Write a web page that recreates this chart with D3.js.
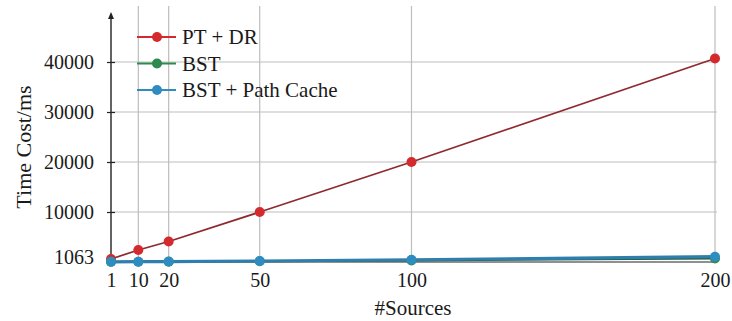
<!DOCTYPE html>
<html>
<head>
<meta charset="utf-8">
<script src="https://cdn.jsdelivr.net/npm/d3@7"></script>
<style>
  html, body { margin: 0; padding: 0; background: #fff; }
  svg { display: block; }
  text { font-family: "Liberation Serif", "DejaVu Serif", serif; fill: #1a1a1a; }
</style>
</head>
<body>
<svg id="chart" width="732" height="321"></svg>
<script>
// Number of sources on the x axis
const sources = [1, 10, 20, 50, 100, 200];
// Time cost (ms) for each method
const ptDr = [600, 2400, 4100, 10000, 20000, 40700];
const bst = [30, 50, 70, 150, 300, 700];
const bstPathCache = [40, 60, 90, 200, 450, 1063];
// Axis ticks
const yTicks = [1063, 10000, 20000, 30000, 40000];
const xTicks = [1, 10, 20, 50, 100, 200];

const seriesNames = ["PT + DR", "BST", "BST + Path Cache"];
const seriesValues = [ptDr, bst, bstPathCache];
const markerColors = ["#d42a2e", "#2b8a4c", "#2f8cc0"];
const lineColors = ["#8e2a30", "#1f5e3a", "#2f7fae"];

const svg = d3.select("#chart");
const x = d3.scaleLinear().domain([1, 200]).range([111, 715]);
const y = d3.scaleLinear().domain([0, 40000]).range([262, 62]);
const gridTop = 6;

// Grid lines
svg.append("g").selectAll("line.v").data(xTicks.filter(d => d !== 1)).join("line")
  .attr("x1", d => x(d)).attr("x2", d => x(d))
  .attr("y1", y(0)).attr("y2", gridTop)
  .attr("stroke", "#bdbdbd").attr("stroke-width", 1.2);
svg.append("g").selectAll("line.h").data(yTicks.filter(d => d >= 10000)).join("line")
  .attr("x1", x(1)).attr("x2", 717)
  .attr("y1", d => y(d)).attr("y2", d => y(d))
  .attr("stroke", "#bdbdbd").attr("stroke-width", 1.2);

// Y axis with arrow
svg.append("line")
  .attr("x1", x(1)).attr("x2", x(1)).attr("y1", y(0) + 2).attr("y2", 16)
  .attr("stroke", "#222").attr("stroke-width", 1.4);
svg.append("path")
  .attr("d", `M${x(1)},12 L${x(1) - 3},19 L${x(1) + 3},19 Z`)
  .attr("fill", "#222");

const yAxis = d3.axisLeft(y).tickValues(yTicks).tickSize(0).tickPadding(17).tickFormat(d3.format("d"));
const yg = svg.append("g").attr("transform", `translate(${x(1)},0)`).call(yAxis);
yg.select(".domain").remove();
yg.selectAll(".tick text").style("font-size", "20px").attr("fill", "#1a1a1a");
yg.selectAll(".tick").append("line")
  .attr("x1", -4).attr("x2", 4).attr("stroke", "#222").attr("stroke-width", 1.2);

// X axis
svg.append("line")
  .attr("x1", x(1)).attr("x2", x(200)).attr("y1", y(0)).attr("y2", y(0))
  .attr("stroke", "#222").attr("stroke-width", 1.2);
const xAxis = d3.axisBottom(x).tickValues(xTicks).tickSize(0).tickPadding(11);
const xg = svg.append("g").attr("transform", `translate(0,${y(0)})`).call(xAxis);
xg.select(".domain").remove();
xg.selectAll(".tick text").style("font-size", "20px").attr("fill", "#1a1a1a");

// Axis titles
svg.append("text").attr("x", 413).attr("y", 315).attr("text-anchor", "middle")
  .style("font-size", "21px").text("#Sources");
svg.append("text").attr("transform", "translate(31,147) rotate(-90)").attr("text-anchor", "middle")
  .style("font-size", "22px").text("Time Cost/ms");

// Series lines and markers
const line = d3.line().x((d, i) => x(sources[i])).y(d => y(d));
seriesValues.forEach((vals, k) => {
  const g = svg.append("g");
  g.append("path").datum(vals).attr("d", line)
    .attr("fill", "none").attr("stroke", lineColors[k])
    .attr("stroke-width", k === 2 ? 3.2 : 1.8);
  g.selectAll("circle").data(vals).join("circle")
    .attr("cx", (d, i) => x(sources[i])).attr("cy", d => y(d)).attr("r", 5)
    .attr("fill", markerColors[k]);
});

// Legend
const legend = svg.append("g");
seriesNames.forEach((name, k) => {
  const ly = 37 + k * 26.5;
  legend.append("line").attr("x1", 137).attr("x2", 176).attr("y1", ly).attr("y2", ly)
    .attr("stroke", markerColors[k]).attr("stroke-width", 1.8);
  legend.append("circle").attr("cx", 157).attr("cy", ly).attr("r", 5).attr("fill", markerColors[k]);
  legend.append("text").attr("x", 182).attr("y", ly).attr("dy", "0.35em")
    .style("font-size", "21px").text(name);
});
</script>
</body>
</html>
